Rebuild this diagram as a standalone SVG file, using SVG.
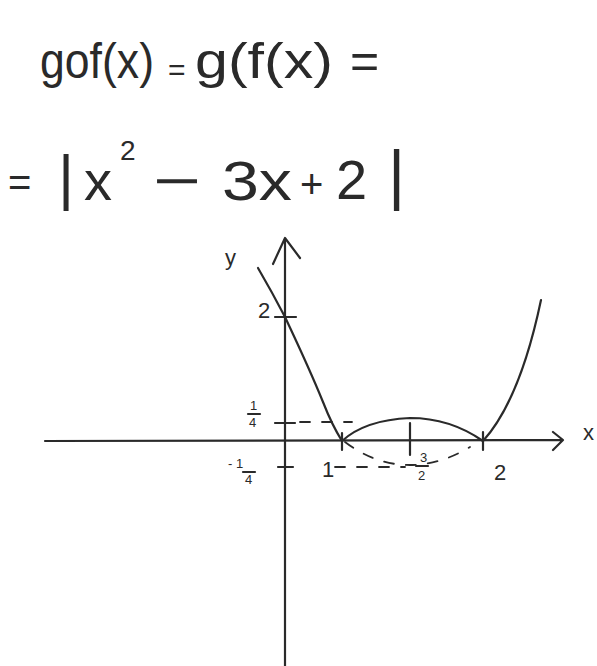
<svg xmlns="http://www.w3.org/2000/svg" width="597" height="666" viewBox="0 0 597 666">
<style>
.t{font-family:"Liberation Sans","DejaVu Sans",sans-serif;fill:#2a2a2a}
.big{font-size:50px}
.lab{font-size:22px}
.sm{font-size:13px}
.ln{fill:none;stroke:#2a2a2a;stroke-width:2.2;stroke-linecap:round;stroke-linejoin:round}
.ds{fill:none;stroke:#2a2a2a;stroke-width:1.8;stroke-dasharray:10 12;stroke-linecap:round}
</style>
<rect width="597" height="666" fill="#fff"/>
<g id="line1">
<text class="t big" x="40" y="78" textLength="114" lengthAdjust="spacingAndGlyphs">gof(x)</text>
<text class="t" x="168" y="80" font-size="30">=</text>
<text class="t big" x="195" y="78" textLength="138" lengthAdjust="spacingAndGlyphs">g(f(x)</text>
<text class="t big" x="350" y="78">=</text>
</g>
<g id="line2">
<text class="t" x="8" y="196" font-size="40">=</text>
<text class="t" x="58" y="198" font-size="62">|</text>
<text class="t" x="84" y="200" font-size="56">x</text>
<text class="t" x="120" y="160" font-size="28">2</text>
<text class="t" x="153" y="200" font-size="56" textLength="48" lengthAdjust="spacingAndGlyphs">−</text>
<text class="t" x="222" y="200" font-size="56" textLength="70" lengthAdjust="spacingAndGlyphs">3x</text>
<text class="t" x="300" y="198" font-size="40">+</text>
<text class="t" x="336" y="199" font-size="56">2</text>
<text class="t" x="388" y="197" font-size="66">|</text>
</g>
<g id="axes">
<path class="ln" d="M285 666 L285 238 M273 264 L285 238 L300 258"/>
<path class="ln" d="M45 441 L562 440 M553 432 L563 440 L553 450"/>
<path class="ln" d="M275 317 L296 317 M275 423 L295 423 M278 467 L293 467 M342 433 L342 450 M410 423 L410 455 M483 432 L483 450"/>
</g>
<g id="labels">
<text class="t lab" x="225" y="265">y</text>
<text class="t lab" x="583" y="440">x</text>
<text class="t lab" x="258" y="318">2</text>
<text class="t sm" x="250" y="410">1</text>
<path class="ln" d="M248 414 L260 414" stroke-width="1.4"/>
<text class="t sm" x="249" y="427">4</text>
<text class="t sm" x="228" y="468">- 1</text>
<path class="ln" d="M243 472 L255 472" stroke-width="1.4"/>
<text class="t sm" x="245" y="484">4</text>
<text class="t lab" x="322" y="477">1</text>
<text class="t sm" x="420" y="462">3</text>
<path class="ln" d="M416 466 L428 466" stroke-width="1.4"/>
<text class="t sm" x="418" y="480">2</text>
<text class="t lab" x="494" y="480">2</text>
</g>
<g id="curve">
<path class="ln" d="M258 268 Q272 292 285 317 Q310 370 323 402 Q332 425 342 441"/>
<path class="ln" d="M342 441 Q365 420 410 418 Q450 418 483 441"/>
<path class="ln" d="M483 441 Q520 400 541 300"/>
<path class="ds" d="M345 442 Q375 465 410 465 Q440 465 470 447"/>
<path class="ds" d="M300 422 L352 422"/>
<path class="ds" d="M335 467 L405 467" stroke-dasharray="6 14"/>
</g>
</svg>
